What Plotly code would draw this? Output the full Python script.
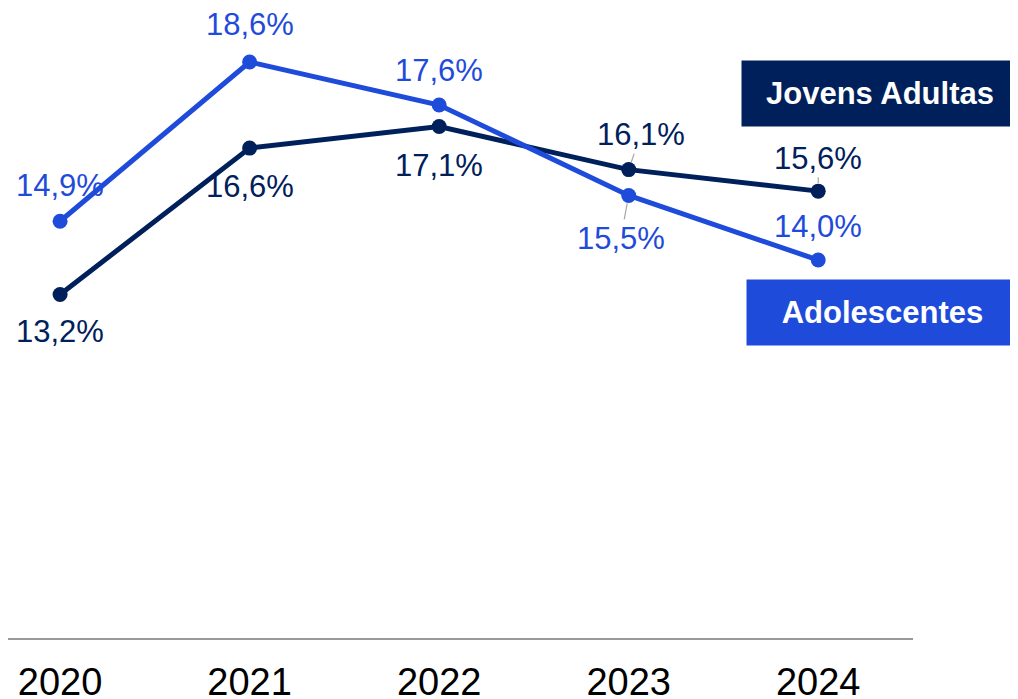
import plotly.graph_objects as go

# data
anos = [2020, 2021, 2022, 2023, 2024]
adolescentes = [14.9, 18.6, 17.6, 15.5, 14.0]
jovens_adultas = [13.2, 16.6, 17.1, 16.1, 15.6]

azul = "#1F4BDB"
marinho = "#00205B"

fig = go.Figure()
fig.add_trace(go.Scatter(x=anos, y=jovens_adultas, mode="lines+markers",
                         line=dict(color=marinho, width=5),
                         marker=dict(size=15, color=marinho), cliponaxis=False))
fig.add_trace(go.Scatter(x=anos, y=adolescentes, mode="lines+markers",
                         line=dict(color=azul, width=5),
                         marker=dict(size=15, color=azul), cliponaxis=False))

def rotulo(v):
    return f"{v:.1f}%".replace(".", ",")

# label offsets (px) per point, and whether a leader line is shown
off_adol = [(0, -36, False), (0, -37, False), (0, -35, False), (-8, 43, True), (0, -34, False)]
off_jov = [(0, 37, False), (0, 38, False), (0, 39, False), (12, -35, True), (0, -33, True)]

for serie, offs, cor in [(adolescentes, off_adol, azul), (jovens_adultas, off_jov, marinho)]:
    for ano, v, (ax, ay, leader) in zip(anos, serie, offs):
        fig.add_annotation(x=ano, y=v, text=rotulo(v), showarrow=True,
                           ax=ax, ay=ay, arrowhead=0, arrowwidth=1.2,
                           arrowcolor="#A6A6A6" if leader else "rgba(0,0,0,0)",
                           standoff=8, startstandoff=0,
                           font=dict(family="Liberation Sans, Arial", size=31, color=cor))

# page has an 8px body margin: plot area spans 905 x 630 px inside the figure
pw, ph = 905, 630
fig.add_annotation(xref="paper", yref="paper", x=872 / pw, y=(ph - 85.5) / ph,
                   text="<b>Jovens Adultas</b>", showarrow=False, bgcolor=marinho,
                   width=266, height=55, borderpad=5, xanchor="center", yanchor="middle",
                   font=dict(family="Liberation Sans, Arial", size=31, color="white"))
fig.add_annotation(xref="paper", yref="paper", x=874.5 / pw, y=(ph - 304.5) / ph,
                   text="<b>Adolescentes</b>", showarrow=False, bgcolor=azul,
                   width=261, height=55, borderpad=5, xanchor="center", yanchor="middle",
                   font=dict(family="Liberation Sans, Arial", size=31, color="white"))

fig.update_layout(
    width=1018, height=699, showlegend=False,
    paper_bgcolor="white", plot_bgcolor="white",
    margin=dict(l=0, r=1018 - pw, t=0, b=699 - ph, autoexpand=False),
    xaxis=dict(range=[2019.7252, 2024.5], tickvals=anos, ticktext=[str(a) for a in anos],
               showgrid=False, zeroline=False, showline=True, linecolor="#999999",
               linewidth=2, ticks="", ticklabelstandoff=9, automargin=False,
               tickfont=dict(family="Liberation Sans, Arial", size=38, color="black")),
    yaxis=dict(range=[5.22, 19.854], visible=False),
)

fig.write_html("out.html")
